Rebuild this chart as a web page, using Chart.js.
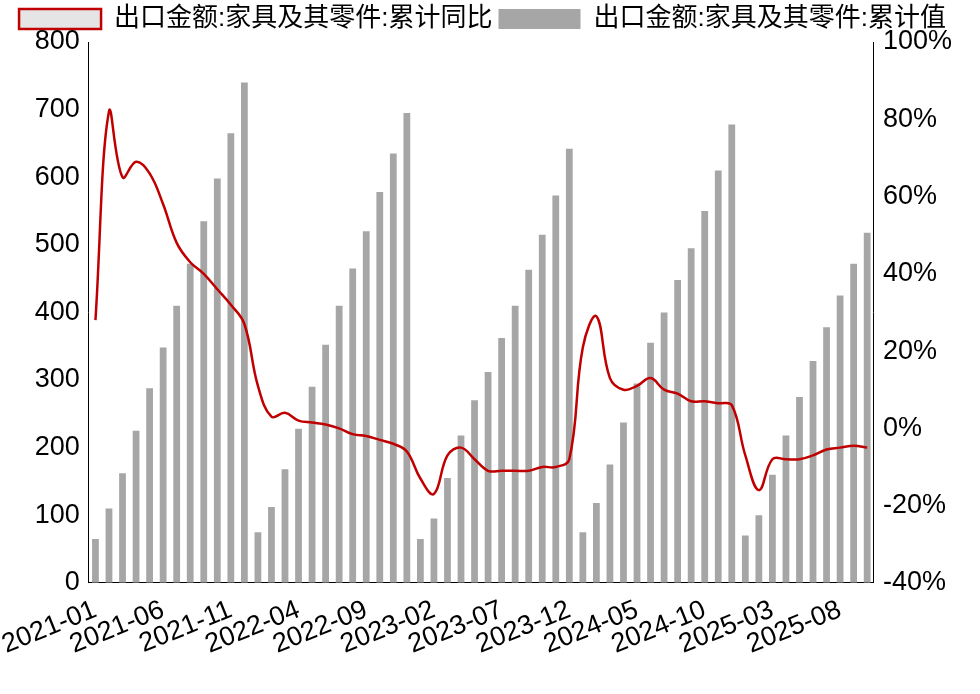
<!DOCTYPE html>
<html><head><meta charset="utf-8">
<script src="https://cdn.jsdelivr.net/npm/chart.js@4/dist/chart.umd.min.js"></script>
<style>html,body{margin:0;background:#fff}</style>
</head><body><canvas id="c" width="980" height="694"></canvas>
<script>
// 月份标签
const months = [];
for (let y = 2021; y <= 2025; y++) {
    for (let m = 1; m <= 12; m++) {
        if (y === 2025 && m > 10) break;
        months.push(y + '-' + String(m).padStart(2, '0'));
    }
}
// 累计值（亿元）
const cumValue = [
    65,110,162,225,288,348,410,472,535,598,665,740,
    75,112,168,228,290,352,410,465,520,578,635,695,
    65,95,155,218,270,312,362,410,463,515,573,642,
    75,118,175,237,295,355,400,448,495,550,610,678,
    70,100,160,218,275,328,378,425,472,518
];
// 累计同比（%）
const cumYoY = [
    28,82,65,69,66,58,48,43,40,36,32,27,
    11,3,4,2,1.5,1,0,-1.5,-2,-3,-4,-6,
    -13,-17,-7,-5,-8,-11,-11,-11,-11,-10,-10,-8,
    21,29,13,10,11,13,10,9,7,7,6.5,6,
    -7,-16,-8,-8,-8,-7,-5.5,-5,-4.5,-5
];
const font = {family: 'Liberation Sans, Arial', size: 27};

new Chart(document.getElementById('c'), {
    data: {
        labels: months,
        datasets: [
            {type: 'bar', label: '出口金额:家具及其零件:累计值', data: cumValue,
             backgroundColor: '#a6a6a6', yAxisID: 'y', barPercentage: 0.5, categoryPercentage: 1, order: 2},
            {type: 'line', label: '出口金额:家具及其零件:累计同比', data: cumYoY,
             borderColor: '#c00000', borderWidth: 2.5, pointRadius: 0, tension: 0.4, yAxisID: 'y1', order: 1}
        ]
    },
    options: {
        responsive: false, animation: false,
        layout: {padding: {left: 10, right: 25, top: 0, bottom: 30}},
        plugins: {
            legend: {position: 'top', labels: {font: {family: 'Liberation Sans, Noto Sans CJK SC', size: 26}, color: '#000', boxWidth: 82, boxHeight: 20, padding: 6},
                     maxHeight: 100},
            tooltip: {enabled: false}
        },
        scales: {
            x: {grid: {display: false}, border: {color: '#000'},
                ticks: {font: font, color: '#000', autoSkip: false, maxRotation: 22, minRotation: 22,
                        callback: (v, i) => i % 5 === 0 ? months[i] : ''}},
            y: {min: 0, max: 800, ticks: {stepSize: 100, font: font, color: '#000'},
                grid: {display: false, drawTicks: true, tickLength: 6}, border: {color: '#000'}},
            y1: {position: 'right', min: -40, max: 100, ticks: {stepSize: 20, font: font, color: '#000', callback: v => v + '%'},
                 grid: {display: false, drawTicks: true, tickLength: 6}, border: {color: '#000'}}
        }
    }
});
</script>
</body></html>
